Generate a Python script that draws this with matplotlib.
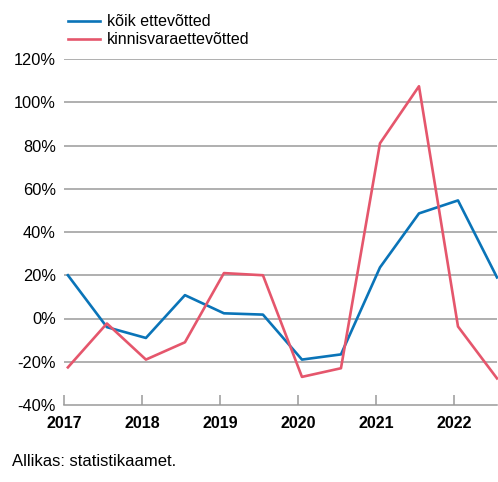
import matplotlib.pyplot as plt
import numpy as np

plt.rcParams['font.family'] = ['Liberation Sans', 'DejaVu Sans']

# half-year observations, 2017 H1 .. 2022 H2
periods = np.arange(12) * 0.5 + 2017.05
koik = [20, -4, -9, 10.8, 2.4, 1.8, -19, -16.6, 23.6, 48.6, 54.6, 19]
kinnisvara = [-22.6, -2.3, -19, -11, 21, 20, -27, -23, 81, 107.4, -3.7, -27.7]
years = [2017, 2018, 2019, 2020, 2021, 2022]
yticks = [-40, -20, 0, 20, 40, 60, 80, 100, 120]

blue = '#0A74B8'
red = '#E5566C'
grid = '#9a9a9a'

fig = plt.figure(figsize=(4.98, 4.82), dpi=100)
ax = fig.add_axes([64 / 498, 1 - 405 / 482, (497 - 64) / 498, (405 - 59) / 482])

for y in yticks[1:]:
    ax.axhline(y, color=grid, lw=1.1, zorder=1)

l1, = ax.plot(periods, koik, color=blue, lw=1.9, label='kõik ettevõtted', zorder=3, clip_on=False)
l2, = ax.plot(periods, kinnisvara, color=red, lw=1.9, label='kinnisvaraettevõtted', zorder=3, clip_on=False)

ax.set_xlim(2017, 2022.55)
ax.set_ylim(-40, 120)
for s in ['top', 'right', 'left']:
    ax.spines[s].set_visible(False)
ax.spines['bottom'].set_color(grid)
ax.spines['bottom'].set_linewidth(1.1)

ax.set_xticks(years)
ax.set_xticklabels([str(y) for y in years], fontweight='bold', fontsize=11.5)
ax.tick_params(axis='x', direction='in', length=7, color=grid, width=1.1, pad=8)
ax.set_yticks(yticks)
ax.set_yticklabels([f'{y}%' for y in yticks], fontsize=11.8)
ax.tick_params(axis='y', length=0, pad=6)

fig.legend(handles=[l1, l2], loc='upper left', bbox_to_anchor=(57 / 498, 1 - 3 / 482),
           frameon=False, fontsize=11.5, handlelength=2.0, handletextpad=0.4,
           labelspacing=0.2, borderpad=0.2)

fig.text(12 / 498, 1 - 462 / 482, 'Allikas: statistikaamet.', fontsize=12, va='center')

fig.savefig('out.png', dpi=100)
